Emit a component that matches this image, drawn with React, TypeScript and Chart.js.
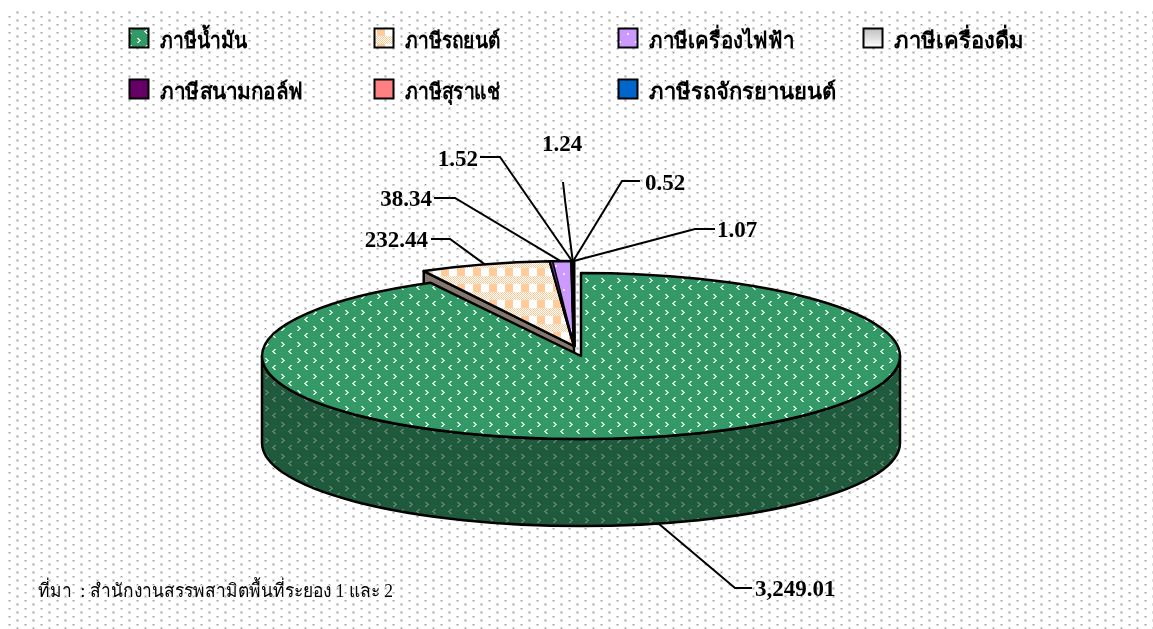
import React, { useEffect, useRef } from "react";
import { Chart, registerables } from "chart.js";

Chart.register(...registerables);

const categories = ["ภาษีน้ำมัน", "ภาษีรถยนต์", "ภาษีเครื่องไฟฟ้า", "ภาษีเครื่องดื่ม", "ภาษีสนามกอล์ฟ", "ภาษีสุราแช่", "ภาษีรถจักรยานยนต์"];
const revenue = [3249.01, 232.44, 38.34, 1.52, 1.24, 0.52, 1.07];
const valueLabels = ["3,249.01", "232.44", "38.34", "1.52", "1.24", "0.52", "1.07"];
const sourceNote = "ที่มา  : สำนักงานสรรพสามิตพื้นที่ระยอง 1 และ 2";

// Layout only
const W = 1153;
const H = 629;
const DEPTH = 87;
const mainGeom = { cx: 581, cy: 356, rx: 319, ry: 83 };
const restGeom = { cx: 574, cy: 346, rx: 319, ry: 85 };
const legendCols = [129, 374, 618, 863];
const legendRows = [28, 79];
const legendTextWidths = [87, 95, 145, 133, 143, 95, 188];
const labelLayout = [
  { tx: 755, ty: 596, align: "left", pts: [[752, 588], [735, 588]], front: true },
  { tx: 428, ty: 247, align: "right", pts: [[431, 239], [450, 239]] },
  { tx: 432, ty: 206, align: "right", pts: [[434, 198], [455, 198]] },
  { tx: 478, ty: 166, align: "right", pts: [[480, 157], [500, 157]] },
  { tx: 542, ty: 151, align: "left", pts: [[563, 182], [565, 200]] },
  { tx: 645, ty: 190, align: "left", pts: [[640, 181], [622, 181]] },
  { tx: 717, ty: 237, align: "left", pts: [[715, 229], [695, 229]] },
];

const tile = (size: number, paint: (c: CanvasRenderingContext2D) => void) => {
  const cv = document.createElement("canvas");
  cv.width = size;
  cv.height = size;
  const c = cv.getContext("2d")!;
  paint(c);
  return cv;
};

const dotsTile = () => {
  const cv = document.createElement("canvas");
  cv.width = 16;
  cv.height = 8;
  const c = cv.getContext("2d")!;
  c.fillStyle = "#ffffff";
  c.fillRect(0, 0, 16, 8);
  for (const [x, y] of [[1, 4], [9, 0]]) {
    c.fillStyle = "#dddddd";
    c.fillRect(x - 1, y - 1, 3, 3);
    c.fillStyle = "#949494";
    c.fillRect(x, y, 1, 1);
  }
  return cv;
};

const chevronTile = (bg: string, fg: string) =>
  tile(16, (c) => {
    c.fillStyle = bg;
    c.fillRect(0, 0, 16, 16);
    c.fillStyle = fg;
    for (const ox of [-16, 0, 16])
      for (const oy of [-16, 0, 16])
        for (let d = -2; d <= 2; d++) {
          const a = Math.abs(d);
          c.fillRect(2 + ox - 2 + a, 15 + oy + d, 2, 1);
          c.fillRect(10 + ox + 1 - a, 8 + oy + d, 2, 1);
        }
  });

const checkTile = () =>
  tile(16, (c) => {
    c.fillStyle = "#ffffff";
    c.fillRect(0, 0, 16, 16);
    c.fillStyle = "#ffcc99";
    for (let y = 0; y < 16; y++)
      for (let x = 0; x < 16; x++) {
        const yy = (y + 4) % 16;
        const xx = (x + 7) % 16;
        const solidRow = yy < 8;
        if (solidRow ? xx < 8 : (x + y) % 2 === 0) c.fillRect(x, y, 1, 1);
      }
  });

const lilacTile = () =>
  tile(16, (c) => {
    c.fillStyle = "#cc99ff";
    c.fillRect(0, 0, 16, 16);
    c.fillStyle = "#f0e2ff";
    c.fillRect(3, 1, 2, 2);
    c.fillRect(11, 9, 2, 2);
  });

function makeFills(c: CanvasRenderingContext2D) {
  const p = (t: HTMLCanvasElement) => c.createPattern(t, "repeat")!;
  return [
    p(chevronTile("#339966", "#d6ecdf")),
    p(checkTile()),
    p(lilacTile()),
    "#d9d9d9",
    "#660066",
    "#ff8080",
    "#0066cc",
  ] as (CanvasPattern | string)[];
}

export default function App() {
  const ref = useRef<HTMLCanvasElement>(null);
  useEffect(() => {
    const canvas = ref.current!;
    const c0 = canvas.getContext("2d")!;
    const fills = makeFills(c0);
    const swatches = makeFills(c0);
    const bgPattern = c0.createPattern(dotsTile(), "repeat")!;
    const wallPattern = c0.createPattern(chevronTile("#1f5a3c", "#5f8472"), "repeat")!;

    const pie3d = {
      id: "pie3d",
      beforeDraw(chart: any) {
        const { ctx } = chart;
        ctx.save();
        ctx.fillStyle = "#ffffff";
        ctx.fillRect(0, 0, W, H);
        ctx.fillStyle = bgPattern;
        ctx.fillRect(8, 10, W - 8, H - 10);
        ctx.restore();
      },
      beforeDatasetsDraw(chart: any) {
        const { ctx } = chart;
        const arcs = chart.getDatasetMeta(0).data;
        ctx.save();
        ctx.lineJoin = "round";
        ctx.strokeStyle = "#000000";
        ctx.lineWidth = 2.5;

        // Cut face of the second slice, seen behind the main slice
        const a1 = arcs[1];
        const ex = restGeom.cx + restGeom.rx * Math.cos(a1.startAngle);
        const ey = restGeom.cy + restGeom.ry * Math.sin(a1.startAngle);
        ctx.beginPath();
        ctx.moveTo(ex, ey);
        ctx.lineTo(restGeom.cx, restGeom.cy);
        ctx.lineTo(restGeom.cx, restGeom.cy + DEPTH);
        ctx.lineTo(ex, ey + DEPTH);
        ctx.closePath();
        ctx.fillStyle = "#84786c";
        ctx.fill();
        ctx.stroke();

        // Outer wall of the main slice
        const g = mainGeom;
        ctx.beginPath();
        ctx.ellipse(g.cx, g.cy, g.rx, g.ry, 0, 0, Math.PI);
        ctx.ellipse(g.cx, g.cy + DEPTH, g.rx, g.ry, 0, Math.PI, 0, true);
        ctx.closePath();
        ctx.fillStyle = wallPattern;
        ctx.fill();
        ctx.stroke();

        // Slice tops
        arcs.forEach((arc: any, i: number) => {
          const s = i === 0 ? mainGeom : restGeom;
          const k = s.ry / s.rx;
          const fill = fills[i];
          if (typeof fill !== "string") {
            fill.setTransform(
              new DOMMatrix().translate(arc.x - s.cx, arc.y).scale(1, 1 / k).translate(0, -s.cy)
            );
          }
          ctx.save();
          ctx.translate(s.cx, s.cy);
          ctx.scale(1, k);
          ctx.translate(-arc.x, -arc.y);
          arc.draw(ctx);
          ctx.beginPath();
          ctx.arc(arc.x, arc.y, arc.outerRadius, arc.startAngle, arc.endAngle);
          ctx.lineTo(arc.x, arc.y);
          ctx.closePath();
          ctx.restore();
          ctx.lineWidth = i > 2 ? 3 : 2.5;
          ctx.stroke();
        });

        // Cut face of the third slice, between the second and third tops
        const a2 = arcs[2];
        const fx = restGeom.cx + restGeom.rx * Math.cos(a2.startAngle);
        const fy = restGeom.cy + restGeom.ry * Math.sin(a2.startAngle);
        ctx.lineWidth = 1.5;
        ctx.beginPath();
        ctx.moveTo(fx, fy);
        ctx.lineTo(fx + 3, fy);
        ctx.lineTo(restGeom.cx, restGeom.cy);
        ctx.closePath();
        ctx.fillStyle = "#5a3d85";
        ctx.fill();
        ctx.stroke();

        ctx.restore();
        return false;
      },
      afterDraw(chart: any) {
        const { ctx } = chart;
        const arcs = chart.getDatasetMeta(0).data;
        ctx.save();

        // Legend
        chart.data.labels.forEach((label: string, i: number) => {
          const x = legendCols[i % 4];
          const y = legendRows[Math.floor(i / 4)];
          const fill = swatches[i];
          if (i === 3) {
            const grad = ctx.createLinearGradient(0, y, 0, y + 20);
            grad.addColorStop(0, "#bdbdbd");
            grad.addColorStop(1, "#ffffff");
            ctx.fillStyle = grad;
          } else {
            ctx.fillStyle = fill;
          }
          ctx.fillRect(x, y, 20, 20);
          ctx.strokeStyle = "#000000";
          ctx.lineWidth = 2;
          ctx.strokeRect(x + 0.5, y + 0.5, 19, 19);
          ctx.fillStyle = "#000000";
          ctx.textAlign = "left";
          ctx.textBaseline = "alphabetic";
          ctx.font = 'bold 22px "Liberation Serif", serif';
          ctx.fillText(label, x + 31, y + 20, legendTextWidths[i]);
        });

        // Leader lines and value labels
        ctx.font = 'bold 23px "Liberation Serif", serif';
        valueLabels.forEach((text, i) => {
          const l = labelLayout[i];
          const arc = arcs[i];
          const s = i === 0 ? mainGeom : restGeom;
          const mid = (arc.startAngle + arc.endAngle) / 2;
          const px = s.cx + s.rx * Math.cos(mid);
          const py = s.cy + s.ry * Math.sin(mid) + (l.front ? DEPTH : 0);
          ctx.strokeStyle = "#000000";
          ctx.lineWidth = 2;
          ctx.beginPath();
          ctx.moveTo(l.pts[0][0], l.pts[0][1]);
          ctx.lineTo(l.pts[1][0], l.pts[1][1]);
          ctx.lineTo(px, py);
          ctx.stroke();
          ctx.fillStyle = "#000000";
          ctx.textAlign = l.align as CanvasTextAlign;
          ctx.fillText(text, l.tx, l.ty);
        });

        // Source note
        ctx.font = '19px "Liberation Serif", serif';
        ctx.textAlign = "left";
        ctx.fillStyle = "#000000";
        ctx.fillText(sourceNote, 38, 597, 355);
        ctx.restore();
      },
    };

    const chart = new Chart(canvas, {
      type: "pie",
      data: {
        labels: categories,
        datasets: [
          {
            data: revenue,
            backgroundColor: fills as any,
            borderWidth: 0,
            radius: mainGeom.rx,
          } as any,
        ],
      },
      options: {
        responsive: false,
        animation: false,
        events: [],
        layout: { padding: { left: 2 * mainGeom.cx - W, top: 2 * mainGeom.cy - H } },
        plugins: { legend: { display: false }, tooltip: { enabled: false }, title: { display: false } },
      },
      plugins: [pie3d as any],
    });
    return () => chart.destroy();
  }, []);

  return (
    <div style={{ position: "absolute", left: 0, top: 0, width: W, height: H, overflow: "hidden" }}>
      <canvas ref={ref} width={W} height={H} style={{ display: "block" }} />
    </div>
  );
}
